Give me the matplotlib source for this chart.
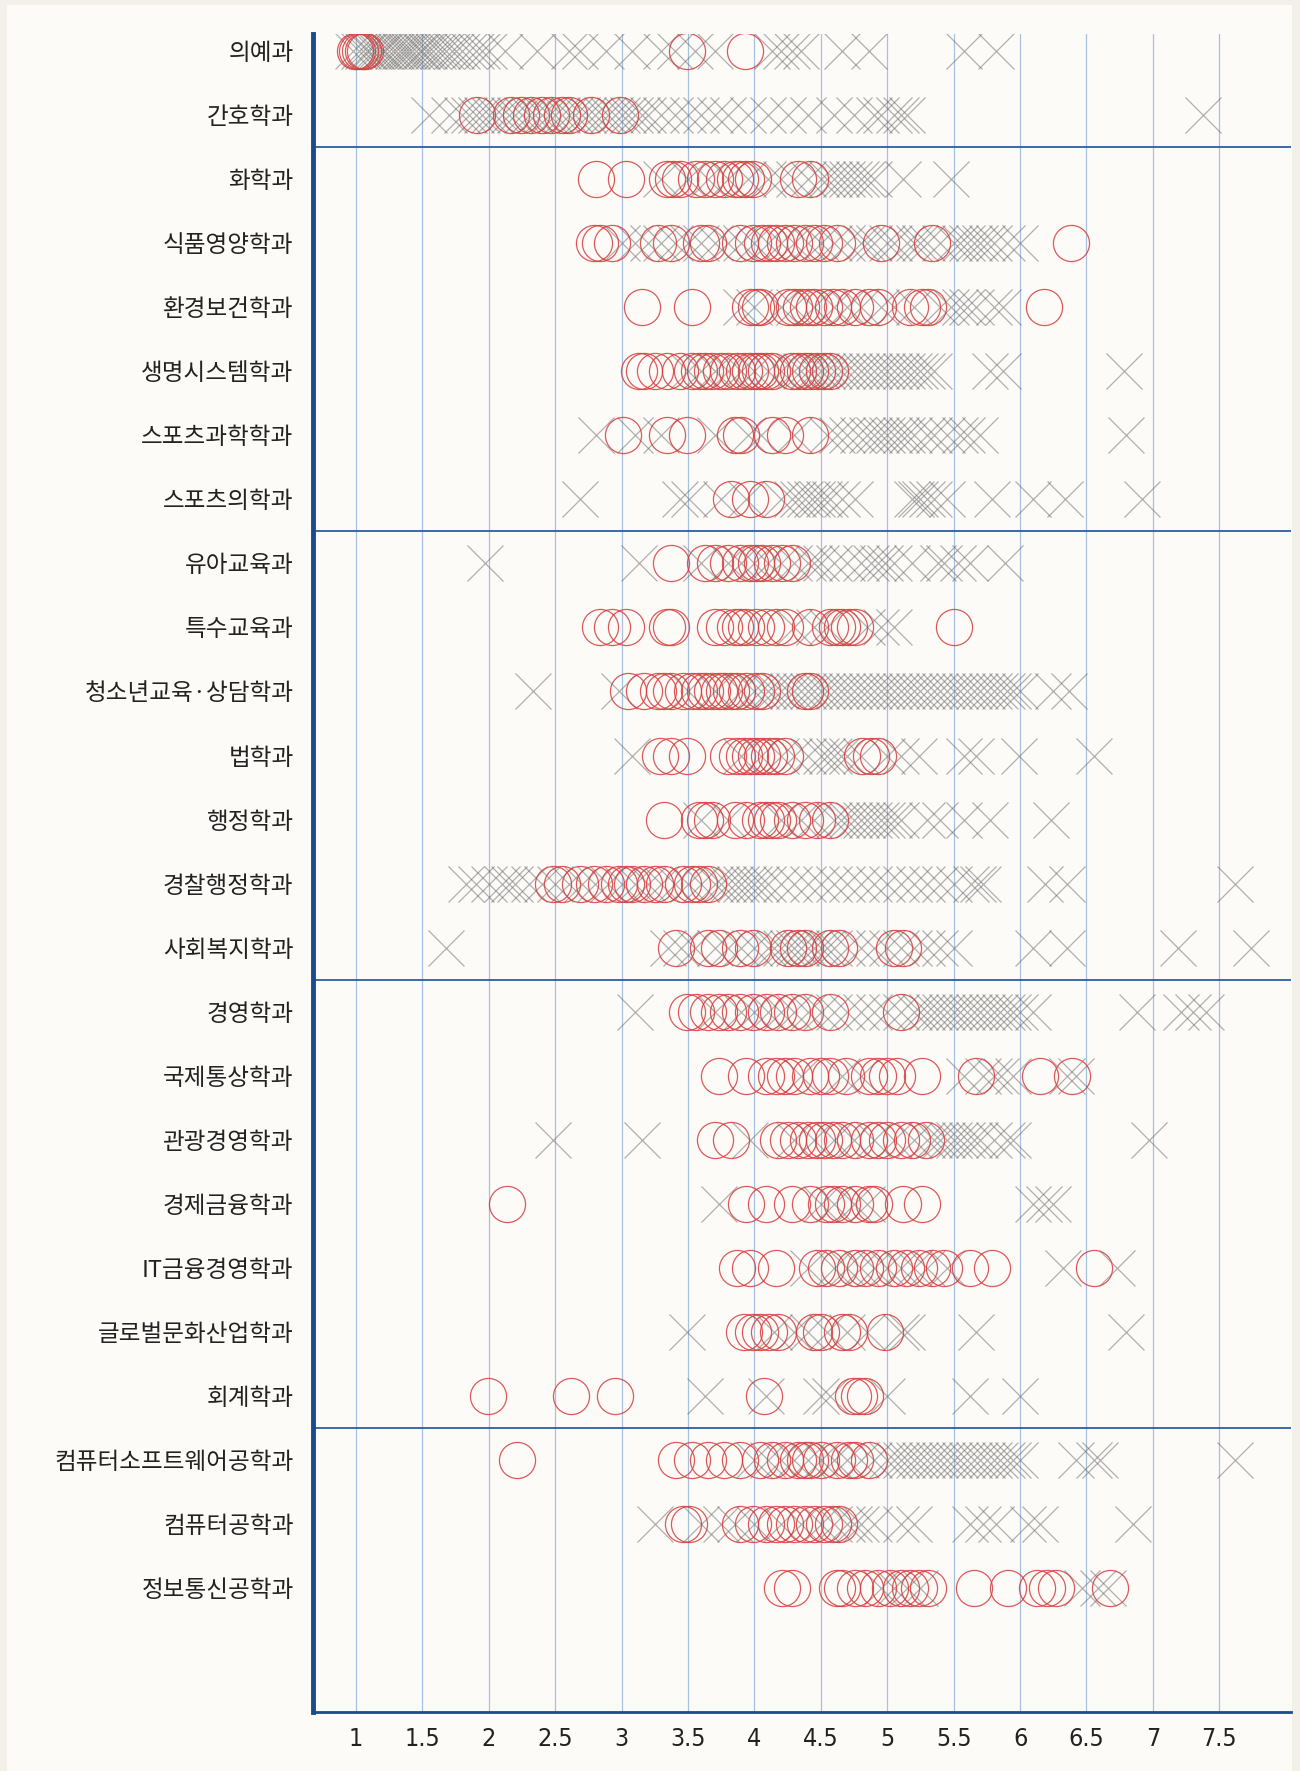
import matplotlib
matplotlib.use("Agg")
import matplotlib.pyplot as plt
from matplotlib.patches import Rectangle

# ------------------------------------------------------------
# Data: grade values (accepted = circles, rejected = crosses)
# ------------------------------------------------------------

departments = [
    "의예과", "간호학과", "화학과", "식품영양학과", "환경보건학과",
    "생명시스템학과", "스포츠과학학과", "스포츠의학과", "유아교육과", "특수교육과",
    "청소년교육·상담학과", "법학과", "행정학과", "경찰행정학과", "사회복지학과",
    "경영학과", "국제통상학과", "관광경영학과", "경제금융학과", "IT금융경영학과",
    "글로벌문화산업학과", "회계학과", "컴퓨터소프트웨어공학과", "컴퓨터공학과", "정보통신공학과",
]

group_breaks = [1.5, 7.5, 14.5, 21.5]

x_ticks = [1, 1.5, 2, 2.5, 3, 3.5, 4, 4.5, 5, 5.5, 6, 6.5, 7, 7.5]
x_tick_labels = ["1", "1.5", "2", "2.5", "3", "3.5", "4", "4.5", "5", "5.5", "6", "6.5", "7", "7.5"]

o_med = [0.99, 1.01, 1.03, 1.05, 1.07, 3.49, 3.93]
x_med = [0.98, 1.02, 1.05, 1.08, 1.1, 1.13, 1.15, 1.18, 1.2, 1.22, 1.25, 1.28, 1.3, 1.33,
         1.35, 1.38, 1.4, 1.42, 1.45, 1.48, 1.5, 1.53, 1.55, 1.58, 1.62, 1.65, 1.68, 1.72,
         1.75, 1.8, 1.85, 1.9, 1.95, 2.0, 2.12, 2.36, 2.6, 2.69, 2.88, 3.08, 3.3, 3.4, 3.55,
         3.7, 4.13, 4.2, 4.28, 4.35, 4.66, 4.86, 5.58, 5.82]

o_nurse = [1.91, 2.17, 2.24, 2.32, 2.4, 2.47, 2.55, 2.6, 2.77, 2.99]
x_nurse = [1.55, 1.7, 1.8, 1.85, 1.9, 1.95, 2.0, 2.05, 2.1, 2.15, 2.2, 2.25, 2.3, 2.35, 2.4,
           2.45, 2.5, 2.55, 2.6, 2.65, 2.7, 2.75, 2.8, 2.85, 2.9, 2.95, 3.0, 3.05, 3.1, 3.15,
           3.2, 3.3, 3.4, 3.5, 3.6, 3.7, 3.8, 3.95, 4.1, 4.25, 4.4, 4.6, 4.75, 4.9, 4.95, 5.05,
           5.1, 5.15, 7.38]

o_chem = [2.81, 3.03, 3.34, 3.39, 3.44, 3.56, 3.63, 3.7, 3.77, 3.85, 3.89, 3.94, 3.99, 4.33, 4.42]
x_chem = [3.3, 3.5, 3.65, 3.8, 3.95, 4.1, 4.2, 4.3, 4.4, 4.5, 4.55, 4.6, 4.65, 4.7, 4.75, 4.8,
          4.85, 4.9, 5.12, 5.48]

o_food = [2.79, 2.84, 2.93, 3.27, 3.37, 3.6, 3.65, 3.89, 3.99, 4.06, 4.11, 4.16, 4.23, 4.3,
          4.38, 4.45, 4.52, 4.62, 4.95, 5.34, 6.38]
x_food = [3.0, 3.1, 3.2, 3.3, 3.4, 3.5, 3.6, 3.7, 3.8, 3.9, 4.0, 4.1, 4.2, 4.3, 4.4, 4.5, 4.6,
          4.7, 4.8, 4.85, 4.9, 5.0, 5.05, 5.15, 5.2, 5.25, 5.3, 5.4, 5.5, 5.55, 5.6, 5.65, 5.7,
          5.75, 5.8, 5.9, 6.0]

o_env = [3.15, 3.53, 3.97, 4.01, 4.04, 4.25, 4.3, 4.35, 4.4, 4.45, 4.52, 4.59, 4.66, 4.76,
         4.86, 4.93, 5.17, 5.26, 5.31, 6.18]
x_env = [3.9, 4.0, 4.2, 4.3, 4.45, 4.6, 4.7, 4.8, 4.95, 5.05, 5.2, 5.4, 5.48, 5.55, 5.6, 5.67,
         5.8, 5.87]

o_bio = [3.13, 3.17, 3.25, 3.34, 3.44, 3.53, 3.58, 3.63, 3.68, 3.75, 3.8, 3.87, 3.92, 3.97,
         4.01, 4.04, 4.09, 4.13, 4.28, 4.33, 4.38, 4.42, 4.47, 4.52, 4.57]
x_bio = [3.5, 3.6, 3.7, 3.8, 3.9, 4.0, 4.1, 4.2, 4.3, 4.35, 4.4, 4.45, 4.5, 4.55, 4.6, 4.65,
         4.7, 4.75, 4.8, 4.85, 4.9, 4.95, 5.0, 5.05, 5.1, 5.15, 5.2, 5.25, 5.3, 5.35, 5.77,
         5.87, 6.78]

o_sport = [3.01, 3.34, 3.49, 3.85, 3.9, 4.13, 4.23, 4.42]
x_sport = [2.81, 3.1, 3.3, 3.7, 3.95, 4.05, 4.3, 4.55, 4.62, 4.7, 4.78, 4.85, 4.9, 4.95, 5.0,
           5.05, 5.1, 5.15, 5.2, 5.3, 5.35, 5.45, 5.55, 5.6, 5.7, 6.8]

o_sportmed = [3.82, 3.97, 4.09]
x_sportmed = [2.69, 3.44, 3.51, 3.75, 3.94, 4.2, 4.28, 4.33, 4.38, 4.43, 4.47, 4.52, 4.57,
              4.66, 4.76, 5.19, 5.22, 5.25, 5.3, 5.35, 5.45, 5.79, 6.1, 6.34, 6.92]

o_child = [3.37, 3.63, 3.7, 3.8, 3.89, 3.97, 4.01, 4.06, 4.13, 4.21, 4.28]
x_child = [1.97, 3.13, 3.6, 3.8, 3.9, 4.0, 4.1, 4.2, 4.3, 4.4, 4.45, 4.5, 4.6, 4.7, 4.8, 4.88,
           4.93, 4.98, 5.05, 5.19, 5.38, 5.43, 5.53, 5.62, 5.89]

o_special = [2.84, 2.93, 3.03, 3.34, 3.37, 3.7, 3.77, 3.85, 3.89, 3.94, 4.01, 4.09, 4.16, 4.23,
             4.42, 4.57, 4.62, 4.66, 4.71, 4.76, 5.5]
x_special = [4.3, 4.45, 4.55, 4.85, 4.95, 5.05]

o_youth = [3.05, 3.17, 3.27, 3.32, 3.37, 3.46, 3.53, 3.58, 3.63, 3.68, 3.73, 3.77, 3.82, 3.87,
           3.94, 4.01, 4.06, 4.38, 4.42]
x_youth = [2.33, 2.98, 3.5, 3.7, 3.9, 4.0, 4.05, 4.1, 4.15, 4.2, 4.25, 4.3, 4.35, 4.4, 4.45,
           4.5, 4.55, 4.6, 4.65, 4.7, 4.75, 4.8, 4.85, 4.9, 4.95, 5.0, 5.05, 5.1, 5.15, 5.2,
           5.25, 5.3, 5.35, 5.4, 5.45, 5.5, 5.55, 5.6, 5.65, 5.7, 5.75, 5.8, 5.85, 5.9, 5.95,
           6.0, 6.25, 6.37]

o_law = [3.29, 3.37, 3.49, 3.8, 3.87, 3.92, 3.97, 4.01, 4.06, 4.11, 4.16, 4.23, 4.81, 4.88, 4.93]
x_law = [3.08, 3.9, 4.05, 4.2, 4.3, 4.4, 4.5, 4.55, 4.6, 4.65, 4.7, 4.8, 5.0, 5.1, 5.24, 5.58,
         5.67, 5.99, 6.56]

o_admin = [3.32, 3.58, 3.63, 3.68, 3.85, 3.94, 4.04, 4.09, 4.13, 4.18, 4.28, 4.38, 4.47, 4.57]
x_admin = [3.6, 3.8, 4.2, 4.35, 4.45, 4.6, 4.65, 4.7, 4.75, 4.8, 4.85, 4.9, 4.95, 5.0, 5.05,
           5.1, 5.3, 5.4, 5.58, 5.77, 6.23]

o_police = [2.48, 2.55, 2.69, 2.79, 2.88, 2.98, 3.03, 3.08, 3.17, 3.25, 3.32, 3.46, 3.53, 3.58,
            3.65]
x_police = [1.83, 1.9, 2.0, 2.1, 2.15, 2.2, 2.3, 2.4, 2.5, 2.6, 2.7, 2.8, 2.9, 3.0, 3.1, 3.2,
            3.3, 3.4, 3.5, 3.6, 3.7, 3.75, 3.8, 3.85, 3.9, 3.95, 4.0, 4.05, 4.1, 4.2, 4.3, 4.4,
            4.5, 4.6, 4.7, 4.8, 4.9, 5.0, 5.1, 5.2, 5.3, 5.4, 5.5, 5.63, 5.68, 5.72, 6.19,
            6.35, 7.62]

o_welfare = [3.41, 3.65, 3.73, 3.89, 3.99, 4.25, 4.33, 4.38, 4.57, 4.64, 5.05, 5.12]
x_welfare = [1.68, 3.35, 3.45, 3.55, 3.7, 3.8, 3.9, 4.0, 4.1, 4.15, 4.2, 4.25, 4.3, 4.35, 4.4,
             4.45, 4.5, 4.55, 4.6, 4.7, 4.8, 4.9, 5.0, 5.1, 5.2, 5.3, 5.4, 5.5, 6.1, 6.35,
             7.19, 7.74]

o_biz = [3.49, 3.56, 3.65, 3.73, 3.8, 3.89, 3.99, 4.09, 4.18, 4.28, 4.38, 4.57, 5.1]
x_biz = [3.1, 3.7, 3.9, 4.0, 4.1, 4.2, 4.3, 4.4, 4.5, 4.6, 4.7, 4.8, 4.9, 5.0, 5.1, 5.2, 5.25,
         5.3, 5.35, 5.4, 5.45, 5.5, 5.55, 5.6, 5.65, 5.7, 5.75, 5.8, 5.85, 5.9, 5.95, 6.0,
         6.1, 6.88, 7.21, 7.3, 7.4]

o_trade = [3.73, 3.94, 4.09, 4.16, 4.23, 4.3, 4.42, 4.5, 4.57, 4.69, 4.86, 4.93, 5.0, 5.07,
           5.26, 5.67, 6.15, 6.39]
x_trade = [4.35, 4.66, 4.8, 5.58, 5.72, 5.8, 5.86, 5.95, 6.35, 6.42]

o_tour = [3.7, 3.82, 4.18, 4.25, 4.33, 4.4, 4.47, 4.52, 4.59, 4.66, 4.76, 4.86, 4.93, 5.0,
          5.1, 5.19, 5.29]
x_tour = [2.48, 3.15, 3.97, 4.3, 4.45, 4.6, 4.75, 4.9, 5.05, 5.2, 5.3, 5.35, 5.4, 5.45, 5.5,
          5.55, 5.6, 5.65, 5.7, 5.8, 5.9, 5.95, 6.97]

o_econ = [2.14, 3.94, 4.09, 4.28, 4.42, 4.54, 4.59, 4.66, 4.76, 4.86, 4.9, 5.12, 5.26]
x_econ = [3.73, 4.5, 4.6, 4.75, 4.85, 6.1, 6.18, 6.25]

o_itfin = [3.87, 3.97, 4.16, 4.47, 4.54, 4.64, 4.76, 4.83, 4.93, 5.05, 5.14, 5.24, 5.34, 5.43,
           5.62, 5.79, 6.56]
x_itfin = [4.4, 4.6, 4.7, 4.8, 4.9, 5.0, 5.1, 5.2, 5.3, 5.45, 6.32, 6.73]

o_global = [3.92, 3.99, 4.04, 4.11, 4.18, 4.45, 4.5, 4.66, 4.71, 4.98]
x_global = [3.49, 4.15, 4.3, 4.4, 4.55, 4.7, 4.85, 5.1, 5.15, 5.67, 6.8]

o_acct = [1.99, 2.62, 2.95, 4.07, 4.74, 4.79, 4.83]
x_acct = [3.63, 4.09, 4.5, 4.57, 5.0, 5.62, 6.0]

o_sw = [2.21, 3.41, 3.53, 3.65, 3.77, 3.89, 4.04, 4.13, 4.23, 4.33, 4.38, 4.42, 4.5, 4.62,
        4.71, 4.76, 4.86]
x_sw = [4.0, 4.1, 4.2, 4.3, 4.4, 4.5, 4.6, 4.7, 4.8, 4.9, 5.0, 5.05, 5.1, 5.15, 5.2, 5.25, 5.3,
        5.35, 5.4, 5.45, 5.5, 5.55, 5.6, 5.65, 5.7, 5.75, 5.8, 5.85, 5.9, 5.95, 6.0, 6.42,
        6.56, 6.6, 7.62]

o_ce = [3.46, 3.51, 3.89, 3.99, 4.09, 4.16, 4.23, 4.3, 4.38, 4.45, 4.52, 4.59, 4.64]
x_ce = [3.25, 3.6, 3.75, 3.85, 4.0, 4.2, 4.35, 4.5, 4.6, 4.7, 4.75, 4.8, 4.9, 5.1, 5.2, 5.62,
        5.72, 5.82, 6.06, 6.15, 6.85]

o_ice = [4.21, 4.28, 4.62, 4.66, 4.76, 4.83, 4.93, 5.02, 5.1, 5.17, 5.24, 5.31, 5.65, 5.91,
         6.13, 6.2, 6.27, 6.68]
x_ice = [4.95, 5.05, 5.15, 5.25, 6.47, 6.59, 6.66]

accepted = [o_med, o_nurse, o_chem, o_food, o_env, o_bio, o_sport, o_sportmed, o_child,
            o_special, o_youth, o_law, o_admin, o_police, o_welfare, o_biz, o_trade, o_tour,
            o_econ, o_itfin, o_global, o_acct, o_sw, o_ce, o_ice]
rejected = [x_med, x_nurse, x_chem, x_food, x_env, x_bio, x_sport, x_sportmed, x_child,
            x_special, x_youth, x_law, x_admin, x_police, x_welfare, x_biz, x_trade, x_tour,
            x_econ, x_itfin, x_global, x_acct, x_sw, x_ce, x_ice]

# ------------------------------------------------------------
# Figure
# ------------------------------------------------------------

W, H = 1300, 1771
fig = plt.figure(figsize=(W / 100, H / 100), dpi=100, facecolor="#f3f0ea")
fig.patches.append(Rectangle((7 / W, 0), (1292 - 7) / W, (H - 5) / H,
                             transform=fig.transFigure, facecolor="#fdfbf8",
                             edgecolor="none", zorder=-10))

ax = fig.add_axes([313 / W, 59 / H, (1291 - 313) / W, (1737 - 59) / H])
ax.set_facecolor("none")

for v in x_ticks:
    ax.axvline(v, color="#a7c0de", lw=0.9, zorder=1)

for y in group_breaks:
    ax.axhline(y, color="#2d5f9e", lw=1.3, zorder=1)

for i, vals in enumerate(rejected):
    ax.plot(vals, [i] * len(vals), ls="none", marker="x", ms=26, mew=0.9,
            color="#666666", alpha=0.5, zorder=2)

for i, vals in enumerate(accepted):
    ax.plot(vals, [i] * len(vals), ls="none", marker="o", ms=26, mew=0.9,
            mfc="none", mec="#d63c3c", alpha=0.85, zorder=3)

ax.set_xlim(0.676, 8.04)
ax.set_ylim(25.94, -0.27)

ax.set_xticks(x_ticks)
ax.set_xticklabels(x_tick_labels, family="DejaVu Sans", stretch="condensed",
                   fontsize=18, color="#222222")
ax.set_yticks(range(len(departments)))
ax.set_yticklabels(departments, family=["Noto Sans CJK KR", "DejaVu Sans"],
                   fontsize=17, color="#222222")
ax.tick_params(axis="both", length=0)
ax.tick_params(axis="x", pad=11)
ax.tick_params(axis="y", pad=14)

for side in ["top", "right"]:
    ax.spines[side].set_visible(False)
ax.spines["left"].set_color("#1a4b8c")
ax.spines["left"].set_linewidth(3.5)
ax.spines["bottom"].set_color("#1a4b8c")
ax.spines["bottom"].set_linewidth(2)

fig.savefig("out.png", dpi=100, facecolor=fig.get_facecolor())
